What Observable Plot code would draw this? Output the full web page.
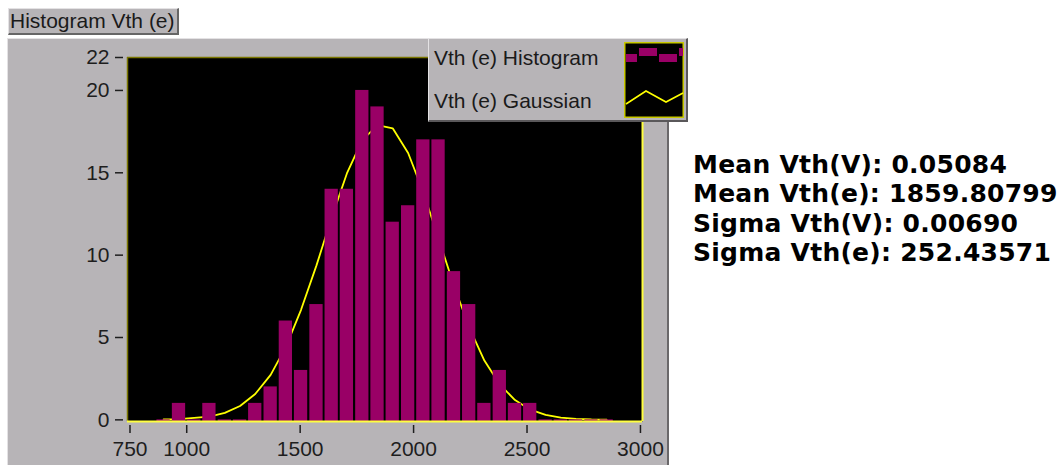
<!DOCTYPE html>
<html>
<head>
<meta charset="utf-8">
<script src="https://cdn.jsdelivr.net/npm/d3@7"></script>
<script src="https://cdn.jsdelivr.net/npm/@observablehq/plot@0.6"></script>
<style>
  body { margin:0; background:#fff; width:1060px; height:465px; overflow:hidden; position:relative;
         font-family:"Liberation Sans", Arial, sans-serif; }
  #panel { position:absolute; left:7px; top:38px; width:662px; height:430px; background:#b7b4b7;
           border-left:1px solid #e4e2e4; border-top:1px solid #e4e2e4; border-right:2px solid #6a686a; box-sizing:border-box; }
  #title { position:absolute; left:8px; top:8px; width:171px; height:27px; background:#b7b4b7;
           border-top:1px solid #e4e2e4; border-left:1px solid #e4e2e4; border-right:2px solid #666; border-bottom:2px solid #666;
           box-sizing:border-box; font-size:21px; line-height:23px; color:#1a1a1a; padding-left:1px; white-space:nowrap; }
  #chart { position:absolute; left:0; top:0; }
  #legend { position:absolute; left:428px; top:38px; width:260px; height:84px; background:#b7b4b7; box-sizing:border-box;
            border-left:1px solid #e4e2e4; border-top:1px solid #e4e2e4; border-right:2px solid #5a585a; border-bottom:2px solid #5a585a; }
  #legend .lab { position:absolute; left:5px; font-size:21px; line-height:25px; color:#1a1a1a; white-space:nowrap; }
  #legend svg { position:absolute; left:195px; top:3px; }
  #stats { position:absolute; left:693px; top:150px; font-family:"DejaVu Sans", sans-serif; font-size:25px; letter-spacing:0.25px;
           line-height:29.3px; font-weight:bold; color:#000; white-space:nowrap; }
</style>
</head>
<body>
<div id="title">Histogram Vth (e)</div>
<div id="panel"></div>
<div id="chart"></div>
<div id="legend">
  <div class="lab" style="top:5.5px">Vth (e) Histogram</div>
  <div class="lab" style="top:48.9px">Vth (e) Gaussian</div>
  <svg width="60" height="76" viewBox="0 0 60 76">
    <rect x="0.75" y="0.75" width="58.5" height="74.5" fill="#000" stroke="#c8c800" stroke-width="1.5"/>
    <rect x="2" y="12" width="11" height="8" fill="#990066"/>
    <rect x="15" y="6" width="18" height="8" fill="#990066"/>
    <rect x="35" y="12" width="18" height="8" fill="#990066"/>
    <rect x="55" y="6" width="4" height="8" fill="#990066"/>
    <polyline points="2,62 22,49 42,60 59,51" fill="none" stroke="#ffff00" stroke-width="1.6"/>
  </svg>
</div>
<div id="stats">
  <div>Mean Vth(V): 0.05084</div>
  <div>Mean Vth(e): 1859.80799</div>
  <div>Sigma Vth(V): 0.00690</div>
  <div>Sigma Vth(e): 252.43571</div>
</div>
<script>
// Histogram bins (centres) and their counts
const binCenters = [898, 966, 1033, 1100, 1168, 1235, 1302, 1370, 1437, 1504,
                    1572, 1639, 1706, 1774, 1841, 1908, 1976, 2043, 2110, 2178,
                    2245, 2312, 2380, 2447, 2514, 2582, 2649, 2716, 2784, 2851];
const binWidth = 67.35;
const counts = [0, 1, 0, 1, 0, 0, 1, 2, 6, 3,
                7, 14, 14, 20, 19, 12, 13, 17, 17, 9,
                7, 1, 3, 1, 1, 0, 0, 0, 0, 0];
// Gaussian fit curve, values read at the bin centres
const gaussian = [0.02, 0.05, 0.12, 0.2, 0.42, 0.84, 1.57, 2.73, 4.43, 6.68,
                  9.38, 12.28, 14.96, 16.99, 17.9, 17.7, 16.2, 13.82, 11.0, 8.14,
                  5.61, 3.6, 2.15, 1.2, 0.62, 0.3, 0.14, 0.06, 0.02, 0.01];
const xTicks = [750, 1000, 1500, 2000, 2500, 3000];
const yTicks = [0, 5, 10, 15, 20, 22];
const xDomain = [739, 3009];
const yDomain = [-0.1, 22];

const bins = binCenters.map((c, i) => ({center: c, count: counts[i], gauss: gaussian[i]}));

const chart = Plot.plot({
  width: 670,
  height: 465,
  marginLeft: 127,
  marginRight: 28,
  marginTop: 57,
  marginBottom: 44,
  x: {domain: xDomain, label: null},
  y: {domain: yDomain, label: null},
  style: {background: "transparent", fontFamily: "'Liberation Sans', Arial, sans-serif", fontSize: "21px", color: "#1e1e1e", overflow: "visible"},
  marks: [
    Plot.frame({fill: "#000"}),
    Plot.line(bins, {x: "center", y: "gauss", stroke: "#ffff00", strokeWidth: 1.8}),
    Plot.rectY(bins, {x1: d => d.center - binWidth / 2, x2: d => d.center + binWidth / 2,
                      y1: d => yDomain[0], y2: "count", fill: "#990066", insetLeft: 1, insetRight: 1}),
    Plot.ruleY([yDomain[1]], {stroke: "#7a7600", strokeWidth: 1.5}),
    Plot.ruleX([xDomain[0]], {stroke: "#7a7600", strokeWidth: 1.5}),
    Plot.ruleY([yDomain[0]], {stroke: "#ffff40", strokeWidth: 2}),
    Plot.ruleX([xDomain[1]], {stroke: "#ffff40", strokeWidth: 2}),
    Plot.axisY({ticks: yTicks, tickSize: 8, tickPadding: 6, dx: -4, strokeWidth: 1.5, label: null}),
    Plot.axisX({ticks: xTicks, tickSize: 8, tickPadding: 8, dy: 4, strokeWidth: 1.5, label: null, tickFormat: d => String(d)})
  ]
});
document.getElementById("chart").appendChild(chart);
</script>
</body>
</html>
